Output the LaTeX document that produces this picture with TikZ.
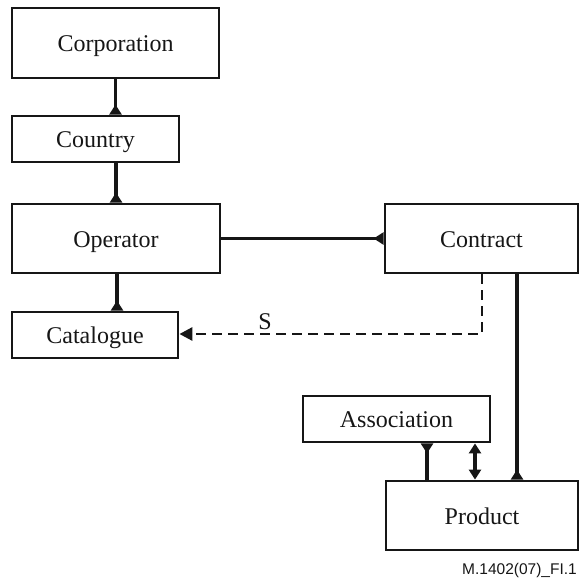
\documentclass[tikz,border=0pt]{standalone}
\usepackage{fontspec}
\setmainfont{Liberation Serif}
\newfontfamily\notefont{Liberation Sans}
\usetikzlibrary{arrows.meta}
\definecolor{ink}{HTML}{161616}
\tikzset{
  entity/.style={draw=ink, line width=2.8pt, inner sep=0pt, fill=white,
    font=\fontsize{24}{26}\selectfont, text=ink, text height=17pt, text depth=0pt},
  link/.style={draw=ink, line width=3.2pt},
  owned/.style={link, -{Triangle[reversed,length=10pt,width=12pt]}},
  owner/.style={link, {Triangle[reversed,length=10pt,width=12pt]}-},
  mutual/.style={link, {Triangle[length=10pt,width=12pt]}-{Triangle[length=10pt,width=12pt]}},
  sref/.style={draw=ink, line width=2.8pt, dash pattern=on 10pt off 6pt,
    -{Triangle[length=13pt,width=13pt]}},
}
\begin{document}
\begin{tikzpicture}[x=1pt,y=-1pt]
\useasboundingbox (0,0) rectangle (579,579);

% entities
\node[entity, minimum width=207pt, minimum height=70pt] (corp) at (115.5,43) {Corporation};
\node[entity, minimum width=167pt, minimum height=46pt] (country) at (95.5,139) {Country};
\node[entity, minimum width=208pt, minimum height=69pt] (oper) at (116,238.5) {Operator};
\node[entity, minimum width=166pt, minimum height=46pt] (cat) at (95,335) {Catalogue};
\node[entity, minimum width=193pt, minimum height=69pt] (contract) at (481.5,238.5) {Contract};
\node[entity, minimum width=187pt, minimum height=46pt] (assoc) at (396.5,419) {Association};
\node[entity, minimum width=192pt, minimum height=69pt] (prod) at (482,515.5) {Product};

% containment links
\draw[owned] (corp.south) -- (corp.south |- country.north);
\draw[owned] ([xshift=20.5pt]country.south) -- ([xshift=20.5pt]country.south |- oper.north);
\draw[owned] ([xshift=1pt]oper.south) -- ([xshift=1pt]oper.south |- cat.north);
\draw[owned] (oper.east) -- (contract.west);
\draw[owned] ([xshift=35.5pt]contract.south) -- ([xshift=35.5pt]contract.south |- prod.north);
\draw[owner] ([xshift=30.5pt]assoc.south) -- ([xshift=30.5pt]assoc.south |- prod.north);
\draw[mutual] ([xshift=78.5pt]assoc.south) -- ([xshift=78.5pt]assoc.south |- prod.north);

% selection reference
\coordinate (turn) at (482,334);
\draw[sref] (contract.south -| turn) -- (turn) -- (turn -| cat.east);
\node[anchor=base, inner sep=0pt, font=\fontsize{24}{26}\selectfont, text=ink] (slabel) at (265,329) {S};

% figure tag
\node[anchor=base east, inner sep=0pt, font=\notefont\fontsize{15.5}{18}\selectfont, text=ink] (tag) at (577,574) {M.1402(07)\_FI.1};
\end{tikzpicture}
\end{document}
